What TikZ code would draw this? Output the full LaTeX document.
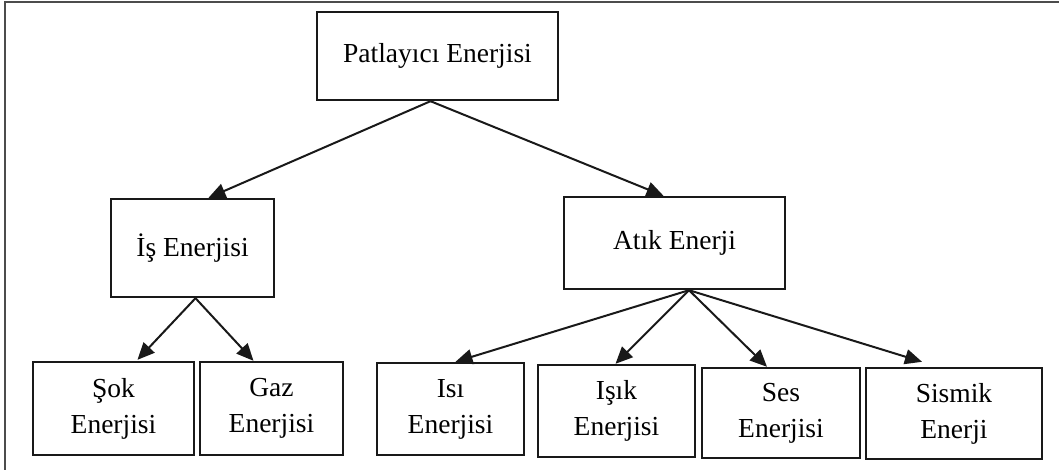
\documentclass[tikz,border=0pt]{standalone}
\usepackage{fontspec}
\setmainfont{Liberation Serif}
\usetikzlibrary{arrows.meta}
\begin{document}
\begin{tikzpicture}[x=1pt,y=1pt,
  box/.style={draw=black!90, line width=2.4pt, fill=white, inner sep=0pt, align=center,
    font=\fontsize{27.5}{36}\selectfont},
  conn/.style={line width=2pt, draw=black!90, -{Triangle[length=17pt,width=15pt]}},
  frame/.style={draw=black!70, line width=2.5pt}]
\useasboundingbox (0,0) rectangle (1059,-470);
\fill[white] (0,0) rectangle (1059,-470);
\coordinate (ftop) at (1059,-2);
\coordinate (fcorner) at (5,-2);
\coordinate (fbot) at (5,-470);
\draw[frame] (ftop) -- (fcorner) -- (fbot);

\node[box, minimum width=241pt, minimum height=88pt] (pat) at (437.5,-56) {Patlayıcı Enerjisi};
\node[box, minimum width=163pt, minimum height=98pt] (is) at (192.5,-248) {İş Enerjisi};
\node[box, minimum width=221pt, minimum height=92pt] (atik) at (674.5,-243) {Atık Enerji};
\node[box, minimum width=161pt, minimum height=93pt] (sok) at (113.5,-408.5) {Şok\\Enerjisi};
\node[box, minimum width=143pt, minimum height=93pt] (gaz) at (271.5,-408.5) {Gaz\\Enerjisi};
\node[box, minimum width=147pt, minimum height=92pt] (isi) at (450.5,-409) {Isı\\Enerjisi};
\node[box, minimum width=157pt, minimum height=92pt] (isik) at (616.5,-411) {Işık\\Enerjisi};
\node[box, minimum width=158pt, minimum height=90pt] (ses) at (781,-413) {Ses\\Enerjisi};
\node[box, minimum width=176pt, minimum height=91pt] (sis) at (954,-413.5) {Sismik\\Enerji};

\draw[conn] ([xshift=-7pt]pat.south) -- ([xshift=16pt]is.north);
\draw[conn] ([xshift=-7pt]pat.south) -- ([xshift=-11pt]atik.north);
\draw[conn] ([xshift=3pt]is.south) -- ([xshift=24pt,yshift=1pt]sok.north);
\draw[conn] ([xshift=3pt]is.south) -- ([xshift=-18pt]gaz.north);
\draw[conn] ([xshift=14.5pt]atik.south) -- ([xshift=5pt]isi.north);
\draw[conn] ([xshift=14.5pt]atik.south) -- ([xshift=-1pt]isik.north);
\draw[conn] ([xshift=14.5pt]atik.south) -- ([xshift=-14pt]ses.north);
\draw[conn] ([xshift=14.5pt]atik.south) -- ([xshift=-32pt,yshift=5pt]sis.north);
\end{tikzpicture}
\end{document}
